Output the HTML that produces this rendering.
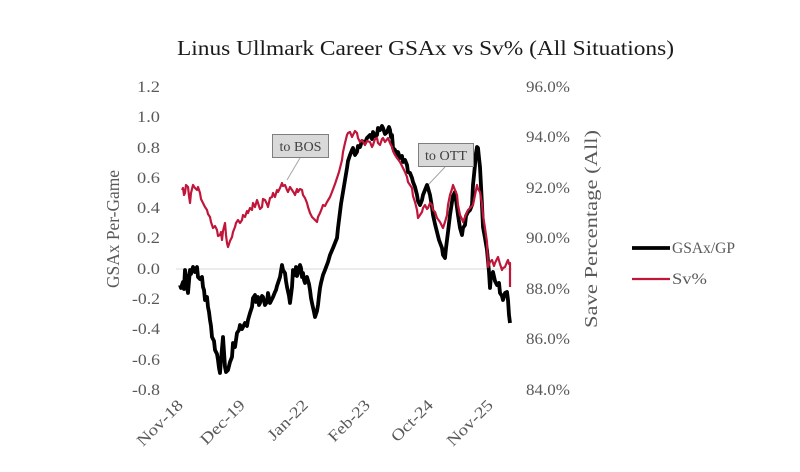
<!DOCTYPE html>
<html>
<head>
<meta charset="utf-8">
<style>
  html,body{margin:0;padding:0;background:#ffffff;}
  svg{display:block;}
  text{font-family:"Liberation Serif", serif;}
</style>
</head>
<body>
<svg width="800" height="472" viewBox="0 0 800 472" xmlns="http://www.w3.org/2000/svg">
  <rect x="0" y="0" width="800" height="472" fill="#ffffff"/>

  <!-- Title -->
  <text x="177" y="55" font-size="21" fill="#1a1a1a" textLength="497" lengthAdjust="spacingAndGlyphs">Linus Ullmark Career GSAx vs Sv% (All Situations)</text>

  <!-- Zero gridline -->
  <line x1="176" y1="269" x2="512" y2="269" stroke="#d9d9d9" stroke-width="1"/>

  <!-- Left axis tick labels -->
  <g font-size="16" fill="#595959" text-anchor="end">
    <text x="160" y="92" textLength="23" lengthAdjust="spacingAndGlyphs">1.2</text>
    <text x="160" y="122" textLength="23" lengthAdjust="spacingAndGlyphs">1.0</text>
    <text x="160" y="153" textLength="23" lengthAdjust="spacingAndGlyphs">0.8</text>
    <text x="160" y="183" textLength="23" lengthAdjust="spacingAndGlyphs">0.6</text>
    <text x="160" y="213" textLength="23" lengthAdjust="spacingAndGlyphs">0.4</text>
    <text x="160" y="243" textLength="23" lengthAdjust="spacingAndGlyphs">0.2</text>
    <text x="160" y="274" textLength="23" lengthAdjust="spacingAndGlyphs">0.0</text>
    <text x="160" y="304" textLength="28" lengthAdjust="spacingAndGlyphs">-0.2</text>
    <text x="160" y="334" textLength="28" lengthAdjust="spacingAndGlyphs">-0.4</text>
    <text x="160" y="365" textLength="28" lengthAdjust="spacingAndGlyphs">-0.6</text>
    <text x="160" y="395" textLength="28" lengthAdjust="spacingAndGlyphs">-0.8</text>
  </g>

  <!-- Right axis tick labels -->
  <g font-size="16" fill="#595959">
    <text x="526" y="92" textLength="44" lengthAdjust="spacingAndGlyphs">96.0%</text>
    <text x="526" y="142" textLength="44" lengthAdjust="spacingAndGlyphs">94.0%</text>
    <text x="526" y="193" textLength="44" lengthAdjust="spacingAndGlyphs">92.0%</text>
    <text x="526" y="243" textLength="44" lengthAdjust="spacingAndGlyphs">90.0%</text>
    <text x="526" y="294" textLength="44" lengthAdjust="spacingAndGlyphs">88.0%</text>
    <text x="526" y="344" textLength="44" lengthAdjust="spacingAndGlyphs">86.0%</text>
    <text x="526" y="395" textLength="44" lengthAdjust="spacingAndGlyphs">84.0%</text>
  </g>

  <!-- Axis titles -->
  <text transform="translate(119,229) rotate(-90)" text-anchor="middle" font-size="18" fill="#595959" textLength="118" lengthAdjust="spacingAndGlyphs">GSAx Per-Game</text>
  <text transform="translate(597,229) rotate(-90)" text-anchor="middle" font-size="18" fill="#595959" textLength="198" lengthAdjust="spacingAndGlyphs">Save Percentage (All)</text>

  <!-- X axis labels -->
  <g font-size="16" fill="#595959" text-anchor="end">
    <text transform="translate(184,406) rotate(-45)" textLength="58" lengthAdjust="spacingAndGlyphs">Nov-18</text>
    <text transform="translate(246,406) rotate(-45)" textLength="56" lengthAdjust="spacingAndGlyphs">Dec-19</text>
    <text transform="translate(309,406) rotate(-45)" textLength="50" lengthAdjust="spacingAndGlyphs">Jan-22</text>
    <text transform="translate(371,406) rotate(-45)" textLength="52" lengthAdjust="spacingAndGlyphs">Feb-23</text>
    <text transform="translate(434,406) rotate(-45)" textLength="52" lengthAdjust="spacingAndGlyphs">Oct-24</text>
    <text transform="translate(494,406) rotate(-45)" textLength="58" lengthAdjust="spacingAndGlyphs">Nov-25</text>
  </g>

  <!-- Annotation leaders -->
  <line x1="300" y1="158" x2="287" y2="180" stroke="#a6a6a6" stroke-width="1"/>
  <line x1="445" y1="167" x2="428" y2="185" stroke="#a6a6a6" stroke-width="1"/>

  <!-- GSAx/GP series -->
  <polyline fill="none" stroke="#000000" stroke-width="3.8" stroke-linejoin="round" points="
  180,285 181,288 183,282 184,289 185,270 186,276 187,287 188,293 189,281 190,270 191,274 193,267 195,272 197,267 198,277 200,279 202,277 203,287 204,290 205,300 207,297 208,307 209,312 210,320 211,326 212,337 214,341 215,350 217,354 218,360 219,368 220,373 221,360 223,337 224,352 225,367 226,372 228,370 230,362 232,357 233,343 235,347 237,333 239,330 240,325 242,329 245,323 247,326 248,320 250,313 252,307 253,298 255,295 256,302 258,297 259,305 260,303 262,296 263,297 265,305 267,302 268,293 270,303 272,299 273,297 275,292 276,290 277,286 278,283 280,277 282,265 283,270 285,273 286,281 287,287 289,296 290,303 291,295 292,287 293,270 295,275 296,267 297,276 298,273 300,265 301,268 302,277 303,273 304,280 305,283 306,279 307,277 309,284 310,290 311,298 312,303 314,312 315,317 317,311 318,305 319,296 320,288 321,283 323,275 325,270 328,262 330,255 333,248 335,243 337,238 338,228 340,212 341,204 343,192 345,180 347,168 348,161 350,155 352,150 353,148 355,155 357,152 358,146 360,147 362,141 365,143 367,138 370,135 372,139 373,132 375,136 377,135 378,128 380,130 382,126 383,128 385,134 387,132 389,127 390,130 391,137 392,135 393,148 395,150 397,155 398,152 400,158 402,156 403,162 405,160 407,165 408,172 410,173 412,178 413,182 415,187 417,195 418,201 420,205 422,200 423,195 425,190 427,185 428,188 430,195 432,207 433,215 435,224 437,232 439,240 442,248 443,255 445,258 446,248 448,232 450,215 452,202 453,196 455,192 456,200 458,215 460,228 462,235 463,228 465,225 466,216 468,212 470,210 472,205 473,185 475,165 476,153 477,147 478,148 479,158 480,167 482,205 483,227 485,238 487,250 489,272 490,288 491,276 493,272 495,281 497,285 499,283 500,293 502,296 503,300 505,293 507,292 508,300 509,315 510,323"/>

  <!-- Sv% series -->
  <polyline fill="none" stroke="#c0163a" stroke-width="2.2" stroke-linejoin="round" points="
  182,190 183,188 184,195 185,193 186,185 188,187 189,196 190,203 191,193 193,185 195,188 197,190 198,187 200,193 201,199 203,203 205,207 207,210 208,214 210,217 211,222 213,228 215,226 217,230 218,236 220,235 221,232 222,240 223,231 225,223 226,235 227,243 228,247 230,241 232,237 233,232 235,227 236,223 238,220 240,223 242,220 243,215 245,217 247,211 248,213 250,208 252,210 253,203 255,207 257,200 258,203 260,209 262,207 263,199 265,200 267,204 268,207 270,198 272,197 273,193 275,197 277,190 278,192 280,188 282,183 283,186 285,185 287,190 288,192 290,187 292,190 294,193 295,195 297,189 298,192 300,189 302,190 303,195 305,198 307,203 308,207 310,213 312,217 314,219 317,222 318,217 320,213 322,208 323,205 325,206 327,202 330,197 332,192 335,184 337,178 339,172 340,168 342,160 343,152 345,143 347,135 348,133 350,132 352,137 353,135 355,131 357,133 358,138 360,142 362,140 365,145 367,141 370,142 372,147 373,145 375,139 377,138 378,143 380,145 382,139 383,138 385,142 388,138 390,143 392,147 393,151 395,155 397,158 400,162 402,166 405,172 407,177 408,182 410,185 412,188 413,196 415,202 417,210 418,218 420,215 422,212 423,208 425,205 427,209 428,208 430,203 432,205 433,210 435,212 437,218 440,222 442,226 443,228 445,222 447,215 448,205 450,195 452,189 453,185 455,190 457,195 458,205 460,215 462,219 463,222 465,217 467,212 468,210 470,208 472,206 473,205 475,195 477,185 478,189 480,192 482,204 483,215 485,228 487,242 488,267 490,262 492,260 494,266 495,263 497,259 498,257 500,264 502,270 503,268 505,267 507,262 508,260 509,264 510,263 510,287"/>

  <!-- Annotation boxes -->
  <rect x="272.5" y="134.5" width="56" height="23" fill="#d9d9d9" stroke="#7f7f7f" stroke-width="1"/>
  <text x="300.5" y="151" text-anchor="middle" font-size="14" fill="#404040" textLength="42" lengthAdjust="spacingAndGlyphs">to BOS</text>
  <rect x="418.5" y="143.5" width="55" height="23" fill="#d9d9d9" stroke="#7f7f7f" stroke-width="1"/>
  <text x="446" y="160" text-anchor="middle" font-size="14" fill="#404040" textLength="42" lengthAdjust="spacingAndGlyphs">to OTT</text>

  <!-- Legend -->
  <line x1="632" y1="248" x2="670" y2="248" stroke="#000000" stroke-width="3.8"/>
  <text x="672" y="253" font-size="16" fill="#595959" textLength="63" lengthAdjust="spacingAndGlyphs">GSAx/GP</text>
  <line x1="632" y1="279" x2="670" y2="279" stroke="#c0163a" stroke-width="2.2"/>
  <text x="672" y="284" font-size="16" fill="#595959" textLength="35" lengthAdjust="spacingAndGlyphs">Sv%</text>
</svg>
</body>
</html>
